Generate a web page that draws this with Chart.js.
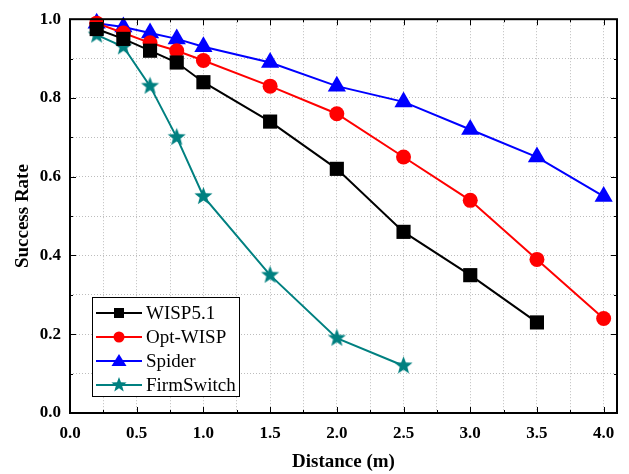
<!DOCTYPE html>
<html>
<head>
<meta charset="utf-8">
<script src="https://cdn.jsdelivr.net/npm/chart.js@4.4.1/dist/chart.umd.min.js"></script>
<style>
  html, body { margin: 0; padding: 0; background: #fff; }
  #grafico { display: block; }
</style>
</head>
<body>
<canvas id="grafico" width="629" height="474"></canvas>
<script>
// dados
const seriesNames = ['WISP5.1', 'Opt-WISP', 'Spider', 'FirmSwitch'];

const distWisp   = [0.2, 0.4, 0.6, 0.8, 1.0, 1.5, 2.0, 2.5, 3.0, 3.5];
const rateWisp   = [0.975, 0.95, 0.92, 0.89, 0.84, 0.74, 0.62, 0.46, 0.35, 0.23];

const distOpt    = [0.2, 0.4, 0.6, 0.8, 1.0, 1.5, 2.0, 2.5, 3.0, 3.5, 4.0];
const rateOpt    = [0.99, 0.965, 0.94, 0.92, 0.895, 0.83, 0.76, 0.65, 0.54, 0.39, 0.24];

const distSpider = [0.2, 0.4, 0.6, 0.8, 1.0, 1.5, 2.0, 2.5, 3.0, 3.5, 4.0];
const rateSpider = [0.99, 0.98, 0.965, 0.95, 0.93, 0.89, 0.83, 0.79, 0.72, 0.65, 0.55];

const distFirm   = [0.2, 0.4, 0.6, 0.8, 1.0, 1.5, 2.0, 2.5];
const rateFirm   = [0.96, 0.93, 0.83, 0.70, 0.55, 0.35, 0.19, 0.12];

const xMajorLabels = ['0.0', '0.5', '1.0', '1.5', '2.0', '2.5', '3.0', '3.5', '4.0'];
const yMajorLabels = ['0.0', '0.2', '0.4', '0.6', '0.8', '1.0'];

const toPoints = (xs, ys) => xs.map((x, i) => ({ x: x, y: ys[i] }));

// estrela preenchida (o 'star' do Chart.js é só traço)
function makeStar(outer, color) {
    const c = document.createElement('canvas');
    const s = Math.ceil(outer * 2 + 2);
    c.width = s; c.height = s;
    const g = c.getContext('2d');
    const inner = outer * 0.42;
    g.beginPath();
    for (let i = 0; i < 10; i++) {
        const r = i % 2 === 0 ? outer : inner;
        const a = -Math.PI / 2 + i * Math.PI / 5;
        const px = s / 2 + r * Math.cos(a), py = s / 2 + r * Math.sin(a);
        if (i === 0) g.moveTo(px, py); else g.lineTo(px, py);
    }
    g.closePath();
    g.fillStyle = color;
    g.fill();
    return c;
}

const TEAL = '#008080';
const starPlot = makeStar(9.5, TEAL);
const starLegend = makeStar(8, TEAL);

const isMult = (v, step) => Math.abs(v / step - Math.round(v / step)) < 1e-6;

// ==========================================
// PLUGIN: moldura + ticks para dentro
// ==========================================
const frameTicks = {
    id: 'frameTicks',
    afterDraw(chart) {
        const { ctx, chartArea: a, scales } = chart;
        ctx.save();
        ctx.strokeStyle = '#000';
        ctx.lineWidth = 1;
        ctx.beginPath();
        scales.x.ticks.forEach(t => {
            const px = Math.round(scales.x.getPixelForValue(t.value)) + 0.5;
            const len = isMult(t.value, 0.5) ? 6 : 3;
            ctx.moveTo(px, a.bottom); ctx.lineTo(px, a.bottom - len);
            ctx.moveTo(px, a.top); ctx.lineTo(px, a.top + len);
        });
        scales.y.ticks.forEach(t => {
            const py = Math.round(scales.y.getPixelForValue(t.value)) + 0.5;
            const len = isMult(t.value, 0.2) ? 6 : 3;
            ctx.moveTo(a.left, py); ctx.lineTo(a.left + len, py);
            ctx.moveTo(a.right, py); ctx.lineTo(a.right - len, py);
        });
        ctx.stroke();
        ctx.lineWidth = 2;
        ctx.strokeRect(a.left, a.top, a.right - a.left, a.bottom - a.top);
        ctx.restore();
    }
};

// ==========================================
// PLUGIN: legenda dentro do gráfico
// ==========================================
function drawMarker(ctx, style, x, y, color) {
    ctx.fillStyle = color;
    if (style === 'rect') {
        ctx.fillRect(x - 5, y - 5, 10, 10);
    } else if (style === 'circle') {
        ctx.beginPath(); ctx.arc(x, y, 5.5, 0, Math.PI * 2); ctx.fill();
    } else if (style === 'triangle') {
        ctx.beginPath();
        ctx.moveTo(x, y - 7); ctx.lineTo(x + 7.5, y + 5); ctx.lineTo(x - 7.5, y + 5);
        ctx.closePath(); ctx.fill();
    } else {
        ctx.drawImage(starLegend, x - starLegend.width / 2, y - starLegend.height / 2);
    }
}

const innerLegend = {
    id: 'innerLegend',
    afterDraw(chart) {
        const { ctx, chartArea: a } = chart;
        const x0 = a.left + 22, y0 = a.bottom - 116;
        const w = 147, h = 99;
        ctx.save();
        ctx.fillStyle = '#fff';
        ctx.fillRect(x0, y0, w, h);
        ctx.strokeStyle = '#000';
        ctx.lineWidth = 1;
        ctx.strokeRect(x0 + 0.5, y0 + 0.5, w, h);
        ctx.font = '19px "Liberation Serif", "Times New Roman", serif';
        ctx.textBaseline = 'middle';
        chart.data.datasets.forEach((ds, i) => {
            const cy = y0 + 16 + i * 24;
            ctx.strokeStyle = ds.borderColor;
            ctx.lineWidth = 2;
            ctx.beginPath(); ctx.moveTo(x0 + 4, cy); ctx.lineTo(x0 + 50, cy); ctx.stroke();
            drawMarker(ctx, ds.legendMarker, x0 + 27, cy, ds.borderColor);
            ctx.fillStyle = '#000';
            ctx.fillText(ds.label, x0 + 54, cy + 1);
        });
        ctx.restore();
    }
};

const makeDataset = (label, pts, color, style, radius) => ({
    label: label,
    data: pts,
    borderColor: color,
    backgroundColor: color,
    borderWidth: 2,
    pointStyle: style === 'star' ? starPlot : style,
    legendMarker: style,
    pointRadius: radius,
    pointHoverRadius: radius,
    pointBorderWidth: 0,
    tension: 0,
    clip: false
});

const tickFont = { family: '"Liberation Serif", "Times New Roman", serif', size: 17, weight: 'bold' };
const titleFont = { family: '"Liberation Serif", "Times New Roman", serif', size: 19, weight: 'bold' };
const gridStyle = { color: '#bdbdbd', lineWidth: 1, drawTicks: false };

const chart = new Chart(document.getElementById('grafico'), {
    type: 'line',
    data: {
        datasets: [
            makeDataset(seriesNames[0], toPoints(distWisp, rateWisp), '#000000', 'rect', 10),
            makeDataset(seriesNames[1], toPoints(distOpt, rateOpt), '#ff0000', 'circle', 7.5),
            makeDataset(seriesNames[2], toPoints(distSpider, rateSpider), '#0000ff', 'triangle', 10.5),
            makeDataset(seriesNames[3], toPoints(distFirm, rateFirm), TEAL, 'star', 9)
        ]
    },
    options: {
        responsive: false,
        devicePixelRatio: 1,
        animation: false,
        layout: { padding: { top: 14, right: 12, left: 0, bottom: 0 } },
        plugins: { legend: { display: false }, tooltip: { enabled: false } },
        scales: {
            x: {
                type: 'linear',
                min: 0, max: 4.1,
                afterFit: s => { s.height = 61; },
                afterBuildTicks: s => { s.ticks = s.ticks.filter(t => isMult(t.value, 0.25)); },
                grid: gridStyle,
                border: { display: false, dash: [1, 2] },
                ticks: {
                    stepSize: 0.25,
                    includeBounds: false,
                    autoSkip: false,
                    maxRotation: 0,
                    padding: 10,
                    color: '#000',
                    font: tickFont,
                    callback: v => isMult(v, 0.5) ? xMajorLabels[Math.round(v / 0.5)] : ''
                },
                title: { display: true, text: 'Distance (m)', color: '#000', font: titleFont, padding: { top: 0, bottom: 1 } }
            },
            y: {
                min: 0, max: 1,
                afterFit: s => { s.width = 70; },
                grid: gridStyle,
                border: { display: false, dash: [1, 2] },
                ticks: {
                    stepSize: 0.1,
                    autoSkip: false,
                    padding: 9,
                    color: '#000',
                    font: tickFont,
                    callback: v => isMult(v, 0.2) ? yMajorLabels[Math.round(v / 0.2)] : ''
                },
                title: { display: true, text: 'Success Rate', color: '#000', font: titleFont, padding: { top: 12, bottom: 0 } }
            }
        }
    },
    plugins: [frameTicks, innerLegend]
});
</script>
</body>
</html>
